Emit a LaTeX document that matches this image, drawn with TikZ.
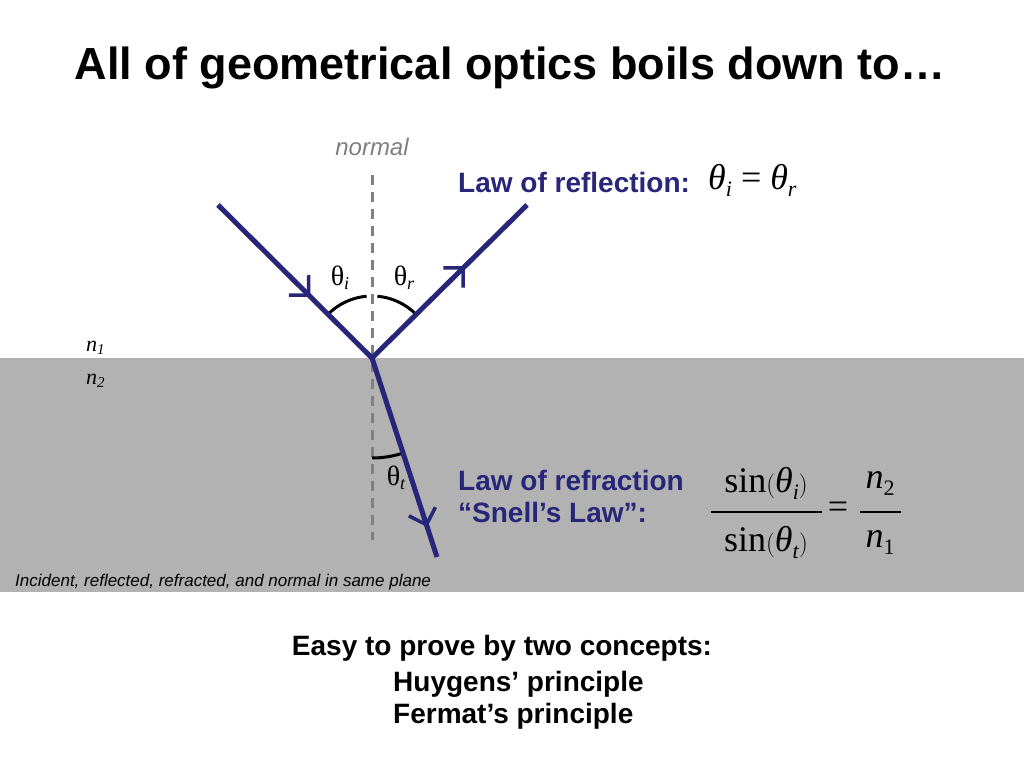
\documentclass[tikz,border=0pt]{standalone}
\usepackage{fontspec}
\setmainfont{Liberation Sans}
\newfontfamily\tnr{Liberation Serif}
\usetikzlibrary{arrows.meta,decorations.markings,calc}
\definecolor{navy}{RGB}{40,38,120}
\definecolor{band}{RGB}{178,178,178}
\tikzset{
 ray/.style={navy,line width=5pt,line cap=butt,postaction={decorate},
  decoration={markings,mark=at position #1 with {\arrow[navy,line width=3.5pt]{Straight Barb[length=14pt,width=28pt]}}}},
 anglearc/.style={black,line width=3pt},
 lbl/.style={inner sep=0pt},
 big/.style={lbl,font=\tnr\fontsize{36}{40}\selectfont},
}
\newcommand{\sub}[1]{\raisebox{-7pt}{\fontsize{22}{24}\selectfont #1}}
\begin{document}
\begin{tikzpicture}[x=1pt,y=1pt]
\useasboundingbox (0,0) rectangle (1024,768);
\fill[band] (0,176) rectangle (1024,410);
\node[lbl,font=\bfseries\fontsize{45}{50}\selectfont] (title) at (510,700) {All of geometrical optics boils down to…};
\coordinate (v) at (372,410);
\coordinate (top) at (372,593);
\coordinate (bot) at (372,228);
\coordinate (inc) at (218,563);
\coordinate (refl) at (527,563);
\coordinate (refr) at (437,211);
\draw[gray,line width=3pt,dash pattern=on 10pt off 7pt] (top) -- (bot);
\node[lbl,gray,font=\itshape\fontsize{24}{28}\selectfont] (normal) at (372,621) {normal};
\draw[anglearc] ($(v)+(135:62)$) arc (135:95:62);
\draw[anglearc] ($(v)+(85:62)$) arc (85:45:62);
\draw[anglearc] ($(v)+(-90:100)$) arc (-90:-73:100);
\draw[ray=0.6] (inc) -- (v);
\draw[ray=0.6] (v) -- (refl);
\draw[ray=0.85] (v) -- (refr);
\node[lbl,font=\tnr\fontsize{28}{32}\selectfont] (ti) at (340,490) {θ\textit{\fontsize{18}{20}\selectfont\raisebox{-4pt}{i}}};
\node[lbl,font=\tnr\fontsize{28}{32}\selectfont] (tr) at (404,490) {θ\textit{\fontsize{18}{20}\selectfont\raisebox{-4pt}{r}}};
\node[lbl,font=\tnr\fontsize{28}{32}\selectfont] (tt) at (396,290) {θ\textit{\fontsize{18}{20}\selectfont\raisebox{-4pt}{t}}};
\node[lbl,anchor=west,font=\tnr\itshape\fontsize{22}{26}\selectfont] (n1) at (86,420) {n\raisebox{-3pt}{\fontsize{15}{17}\selectfont 1}};
\node[lbl,anchor=west,font=\tnr\itshape\fontsize{22}{26}\selectfont] (n2) at (86,387) {n\raisebox{-3pt}{\fontsize{15}{17}\selectfont 2}};
\node[lbl,anchor=west,navy,font=\bfseries\fontsize{28}{32}\selectfont] (lr) at (458,586) {Law of reflection:};
\node[big,anchor=west] (eq1) at (708,588) {\textit{θ}\sub{\textit{i}} = \textit{θ}\sub{\textit{r}}};
\node[lbl,anchor=west,navy,font=\bfseries\fontsize{28}{32}\selectfont] (lf) at (458,288) {Law of refraction};
\node[lbl,anchor=west,navy,font=\bfseries\fontsize{28}{32}\selectfont] (sn) at (458,256) {“Snell’s Law”:};
\node[big] (num) at (766,285) {sin\big(\textit{θ}\sub{\textit{i}}\big)};
\node[big] (den) at (766,225) {sin\big(\textit{θ}\sub{\textit{t}}\big)};
\draw[line width=1.3pt] (711,256) -- (822,256);
\node[big] (eq) at (838,258) {=};
\node[big] (nn2) at (880,284) {\textit{n}\sub{2}};
\node[big] (nn1) at (880,225) {\textit{n}\sub{1}};
\draw[line width=1.3pt] (860,256) -- (901,256);
\node[lbl,anchor=west,font=\itshape\fontsize{17}{20}\selectfont] (foot) at (15,186) {Incident, reflected, refracted, and normal in same plane};
\node[lbl,font=\bfseries\fontsize{28}{32}\selectfont] (easy) at (502,120) {Easy to prove by two concepts:};
\node[lbl,anchor=west,font=\bfseries\fontsize{28}{32}\selectfont] (hu) at (393,84) {Huygens’ principle};
\node[lbl,anchor=west,font=\bfseries\fontsize{28}{32}\selectfont] (fe) at (393,52) {Fermat’s principle};
\end{tikzpicture}
\end{document}
